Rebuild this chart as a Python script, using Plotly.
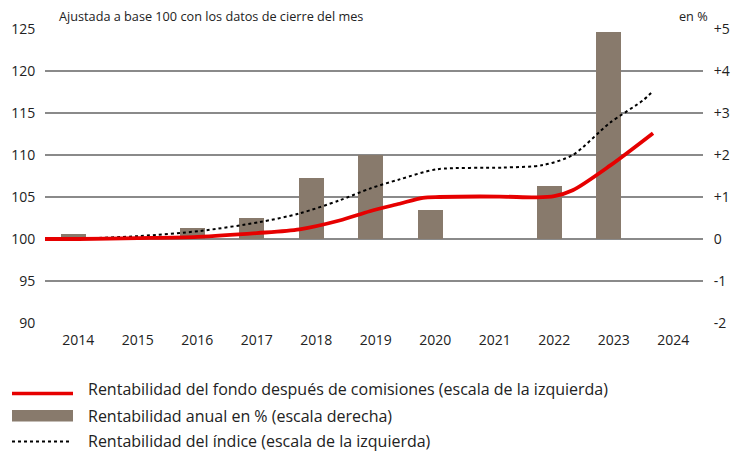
import plotly.graph_objects as go

# ---- data ----
years = [2014, 2015, 2016, 2017, 2018, 2019, 2020, 2021, 2022, 2023]
annual_pct = [0.12, 0.05, 0.27, 0.51, 1.45, 2.01, 0.69, 0.0, 1.27, 4.93]

fund_x = [2013.44, 2014.0, 2015.0, 2016.0, 2017.0, 2017.72, 2018.39, 2018.9, 2019.4,
          2019.79, 2020.07, 2021.08, 2021.71, 2022.0, 2022.31, 2022.93, 2023.66]
fund_y = [100.0, 100.0, 100.1, 100.25, 100.7, 101.15, 102.2, 103.3, 104.2,
          104.9, 105.0, 105.05, 104.95, 105.1, 105.8, 108.7, 112.6]

index_x = [2013.44, 2014.0, 2015.03, 2016.04, 2017.04, 2017.72, 2018.39, 2018.9, 2019.4,
           2020.03, 2021.13, 2021.81, 2022.31, 2022.93, 2023.49, 2023.66]
index_y = [100.0, 100.05, 100.35, 100.95, 102.0, 103.05, 104.6, 106.0, 107.1,
           108.3, 108.5, 108.8, 110.0, 113.8, 116.5, 117.6]

x_ticks = list(range(2014, 2025))
x_ticklabels = [str(y) for y in x_ticks]
left_ticks = [90, 95, 100, 105, 110, 115, 120, 125]
right_ticks = [-2, -1, 0, 1, 2, 3, 4, 5]
right_ticklabels = ["-2", "-1", "0", "+1", "+2", "+3", "+4", "+5"]

name_fund = "Rentabilidad del fondo después de comisiones (escala de la izquierda)"
name_bar = "Rentabilidad anual en % (escala derecha)"
name_index = "Rentabilidad del índice (escala de la izquierda)"
title_left = "Ajustada a base 100 con los datos de cierre del mes"
title_right = "en %"

RED = "#e60000"
BROWN = "#887a6c"
GRID = "#8a8a8a"
TXT = "#222222"
FONT = "Open Sans"

# page body has an 8px margin; the figure is sized so it fits the window
OFF = 8
W, H = 739 - OFF, 452 - OFF
L, R, T, B = 45, 703, 29, 323   # plot area in window pixels


def px(xp):
    return (xp - L) / (R - L)


def py(yp):
    return (B - yp) / (B - T)


fig = go.Figure()

fig.add_trace(go.Bar(
    x=years, y=annual_pct, name=name_bar, marker_color=BROWN,
    marker_line_width=0, width=0.42, offset=-0.295, yaxis="y",
))
fig.add_trace(go.Scatter(
    x=index_x, y=index_y, name=name_index, mode="lines",
    line=dict(color="black", width=2, dash="dot", shape="spline", smoothing=0.8),
    yaxis="y2",
))
fig.add_trace(go.Scatter(
    x=fund_x, y=fund_y, name=name_fund, mode="lines",
    line=dict(color=RED, width=3.8, shape="spline", smoothing=0.8),
    yaxis="y2",
))

shapes = [
    dict(type="line", xref="paper", yref="paper", x0=px(12), x1=px(73),
         y0=py(393.5), y1=py(393.5), line=dict(color=RED, width=3.5)),
    dict(type="rect", xref="paper", yref="paper", x0=px(12), x1=px(73),
         y0=py(410), y1=py(421.5), line=dict(width=0), fillcolor=BROWN),
    dict(type="line", xref="paper", yref="paper", x0=px(12), x1=px(71),
         y0=py(441.5), y1=py(441.5), line=dict(color="black", width=2, dash="dot")),
]

annotations = [
    dict(text=title_left, xref="paper", yref="paper", x=px(57), y=py(16),
         xanchor="left", yanchor="middle", showarrow=False,
         font=dict(family=FONT, size=12.7, color=TXT)),
    dict(text=title_right, xref="paper", yref="paper", x=px(710), y=py(16),
         xanchor="right", yanchor="middle", showarrow=False,
         font=dict(family=FONT, size=12.7, color=TXT)),
]
for label, yc in [(name_fund, 389), (name_bar, 415.5), (name_index, 440.5)]:
    annotations.append(dict(text=label, xref="paper", yref="paper", x=px(86), y=py(yc),
                            xanchor="left", yanchor="middle", showarrow=False,
                            font=dict(family=FONT, size=16, color=TXT)))

fig.update_layout(
    width=W, height=H,
    margin=dict(l=L - OFF, r=739 - R, t=T - OFF, b=452 - B, pad=0, autoexpand=False),
    paper_bgcolor="white", plot_bgcolor="white",
    showlegend=False,
    font=dict(family=FONT, size=14, color=TXT),
    bargap=0,
    xaxis=dict(range=[2013.44, 2024.5], tickvals=x_ticks, ticktext=x_ticklabels,
               showgrid=False, zeroline=False, showline=False,
               ticks="outside", ticklen=4, tickcolor="rgba(0,0,0,0)",
               tickfont=dict(family=FONT, size=14, color=TXT)),
    yaxis=dict(range=[-2, 5], tickvals=right_ticks, ticktext=right_ticklabels,
               side="right", showgrid=True, gridcolor=GRID, gridwidth=1.6,
               zeroline=False, showline=False,
               ticks="outside", ticklen=7, tickcolor="rgba(0,0,0,0)",
               tickfont=dict(family=FONT, size=14, color=TXT)),
    yaxis2=dict(range=[90, 125], tickvals=left_ticks, overlaying="y", side="left",
                showgrid=False, zeroline=False, showline=False,
                ticks="outside", ticklen=6, tickcolor="rgba(0,0,0,0)",
                tickfont=dict(family=FONT, size=14, color=TXT)),
    shapes=shapes,
    annotations=annotations,
)

fig.write_html("out.html")
